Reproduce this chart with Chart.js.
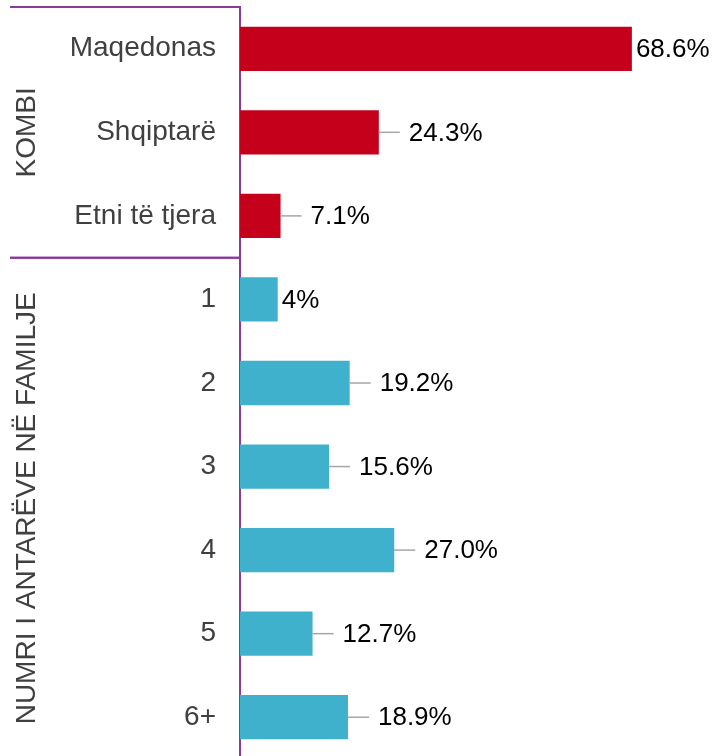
<!DOCTYPE html>
<html lang="sq">
<head>
    <meta charset="UTF-8">
    <title>Kombi dhe numri i antarëve në familje</title>
    <script src="https://cdn.jsdelivr.net/npm/chart.js"></script>
    <style>
        html, body { margin: 0; padding: 0; background: #fff; overflow: hidden; }
        .chart-container { position: relative; width: 717px; height: 760px; }
    </style>
</head>
<body>
    <div class="chart-container">
        <canvas id="sampleChart"></canvas>
    </div>

    <script>
        // kategoritë dhe vlerat
        const categories = ['Maqedonas', 'Shqiptarë', 'Etni të tjera', '1', '2', '3', '4', '5', '6+'];
        const values = [68.6, 24.3, 7.1, 6.6, 19.2, 15.6, 27.0, 12.7, 18.9];
        const valueLabels = ['68.6%', '24.3%', '7.1%', '4%', '19.2%', '15.6%', '27.0%', '12.7%', '18.9%'];
        const withLeader = [false, true, true, false, true, true, true, true, true];
        const groupNames = ['KOMBI', 'NUMRI I ANTARËVE NË FAMILJE'];
        const groupSizes = [3, 6];

        const red = '#C5001A';
        const teal = '#3FB1CD';
        const purple = '#8A3A9B';
        const font = '"Liberation Sans", Arial, sans-serif';

        const barColors = [];
        groupSizes.forEach((n, g) => {
            for (let i = 0; i < n; i++) barColors.push(g === 0 ? red : teal);
        });

        // etiketat e vlerave, vijat udhëzuese, grupet
        const extras = {
            id: 'extras',
            afterDatasetsDraw(chart) {
                const ctx = chart.ctx;
                const x = chart.scales.x;
                const y = chart.scales.y;
                const area = chart.chartArea;

                ctx.save();
                ctx.font = '26px ' + font;
                ctx.textBaseline = 'middle';
                ctx.textAlign = 'left';
                values.forEach((v, i) => {
                    const end = x.getPixelForValue(v);
                    const cy = y.getPixelForValue(i);
                    let tx = end + 4;
                    if (withLeader[i]) {
                        ctx.strokeStyle = '#A6A6A6';
                        ctx.lineWidth = 1.5;
                        ctx.beginPath();
                        ctx.moveTo(end, cy);
                        ctx.lineTo(end + 21, cy);
                        ctx.stroke();
                        tx = end + 30;
                    }
                    ctx.fillStyle = '#000';
                    ctx.fillText(valueLabels[i], tx, cy + 1);
                });

                // vijat ndarëse dhe emrat e grupeve
                let start = 0;
                ctx.strokeStyle = purple;
                ctx.lineWidth = 2;
                ctx.font = '28px ' + font;
                groupNames.forEach((name, g) => {
                    const top = y.getPixelForValue(start - 0.5);
                    const bottom = y.getPixelForValue(start + groupSizes[g] - 0.5);
                    ctx.beginPath();
                    ctx.moveTo(10, top);
                    ctx.lineTo(area.left, top);
                    ctx.moveTo(10, bottom);
                    ctx.lineTo(area.left, bottom);
                    ctx.stroke();

                    ctx.save();
                    ctx.translate(26, (top + bottom) / 2);
                    ctx.rotate(-Math.PI / 2);
                    ctx.textAlign = 'center';
                    ctx.fillStyle = '#404040';
                    ctx.fillText(name, 0, 1);
                    ctx.restore();
                    start += groupSizes[g];
                });
                ctx.restore();
            }
        };

        new Chart(document.getElementById('sampleChart'), {
            type: 'bar',
            data: {
                labels: categories,
                datasets: [{
                    data: values,
                    backgroundColor: barColors,
                    categoryPercentage: 1,
                    barPercentage: 0.53
                }]
            },
            options: {
                indexAxis: 'y',
                responsive: true,
                maintainAspectRatio: false,
                animation: false,
                layout: { padding: { top: 7, bottom: 1, left: 0, right: 20 } },
                plugins: {
                    legend: { display: false },
                    tooltip: { enabled: false }
                },
                scales: {
                    x: { display: false, min: 0, max: 80 },
                    y: {
                        afterFit(scale) {
                            scale.width = 240;
                            scale.paddingTop = 0;
                            scale.paddingBottom = 0;
                        },
                        grid: { display: false, drawTicks: false },
                        border: { display: true, color: purple, width: 2 },
                        ticks: {
                            padding: 24,
                            color: '#404040',
                            font: { size: 28, family: font }
                        }
                    }
                }
            },
            plugins: [extras]
        });
    </script>
</body>
</html>
